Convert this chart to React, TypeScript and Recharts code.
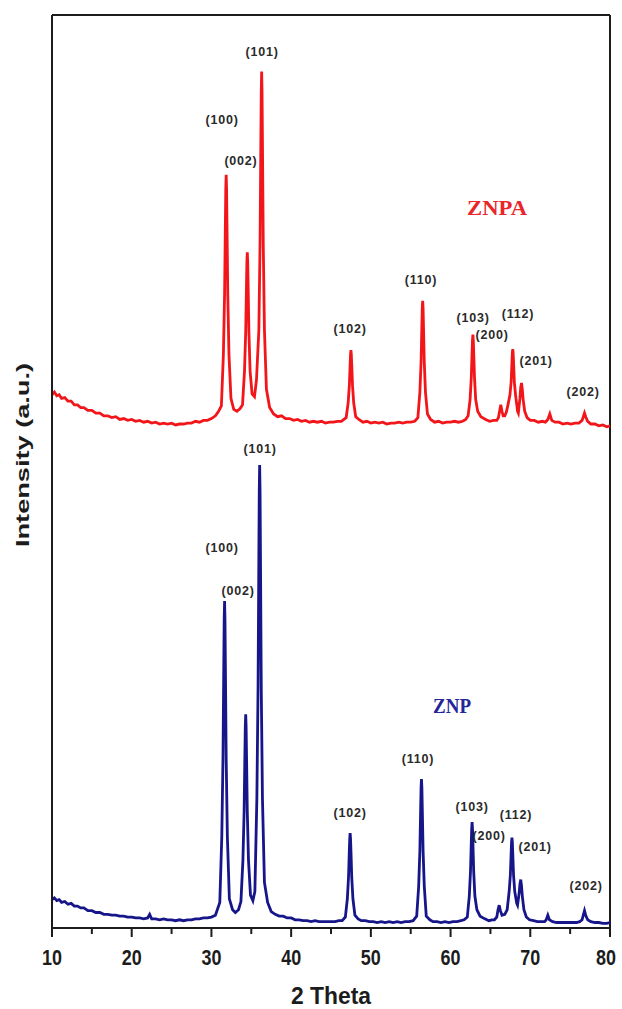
import { ComposedChart, Line, Scatter, XAxis, YAxis, ReferenceLine } from 'recharts'

// [2θ, intensity]
// ZNP (blue, lower pattern)
const znpPoints: [number, number][] = [
  [10, 31], [10.3, 33], [10.6, 30], [10.9, 31], [11.2, 28], [11.6, 29], [12, 26], [12.4, 27], [12.8, 24], [13.2, 24],
  [13.6, 22], [14, 22], [14.5, 19], [15, 19], [15.5, 17], [16, 17], [16.5, 15], [17, 15], [17.5, 14], [18, 14],
  [18.5, 13], [19, 13], [19.5, 12], [20, 12], [20.5, 11], [21, 11], [21.5, 10], [22, 11], [22.25, 15], [22.5, 10],
  [23, 10], [23.5, 9], [24, 10], [24.5, 9], [25, 9], [25.5, 8], [26, 9], [26.5, 8], [27, 9], [27.5, 9], [28, 10],
  [28.5, 10], [29, 11], [29.5, 11], [30, 12], [30.5, 14],
  [31.05, 28], [31.3, 100], [31.45, 186], [31.55, 289], [31.6, 337], [31.65, 358], [31.7, 337], [31.75, 289],
  [31.85, 186], [32, 100], [32.25, 32], [32.65, 20], [33, 17], [33.4, 20],
  [33.7, 29], [33.95, 74], [34.1, 127], [34.2, 191], [34.25, 221], [34.3, 234], [34.35, 221], [34.4, 191],
  [34.5, 127], [34.65, 74], [34.9, 36], [35.2, 30],
  [35.45, 40], [35.7, 142], [35.85, 264], [35.95, 410], [36, 478], [36.05, 507], [36.1, 478], [36.15, 410],
  [36.25, 264], [36.4, 142], [36.65, 50], [37.05, 28], [37.5, 18],
  [38, 15], [38.5, 13], [39, 13], [39.5, 11], [40, 11], [40.5, 9], [41, 9], [41.5, 8], [42, 8], [42.5, 7], [43, 8],
  [43.5, 7], [44, 7], [44.5, 7], [45, 7], [45.5, 7], [46, 8], [46.4, 8],
  [46.8, 12], [47.05, 32], [47.2, 56], [47.3, 85], [47.35, 98], [47.4, 104], [47.45, 98], [47.5, 85], [47.6, 56],
  [47.75, 32], [48, 14], [48.4, 10],
  [48.8, 8], [49.3, 8], [49.8, 7], [50.3, 7], [50.8, 6], [51.3, 7], [51.8, 6], [52.3, 7], [52.8, 6], [53.3, 7],
  [53.8, 6], [54.3, 7], [54.8, 7], [55.3, 8],
  [55.75, 13], [56, 46], [56.15, 85], [56.25, 132], [56.3, 154], [56.35, 163], [56.4, 154], [56.45, 132],
  [56.55, 85], [56.7, 46], [56.95, 13], [57.4, 9],
  [57.8, 7], [58.3, 7], [58.8, 6], [59.3, 7], [59.8, 6], [60.3, 7], [60.8, 7], [61.3, 8], [61.7, 9],
  [62.1, 12], [62.35, 35], [62.5, 62], [62.6, 94], [62.65, 109], [62.7, 116], [62.75, 109], [62.8, 94], [62.9, 62],
  [63.05, 35], [63.3, 20], [63.7, 13], [64.3, 10],
  [64.8, 8], [65.2, 9], [65.5, 9], [65.8, 12], [65.95, 20], [66.1, 25], [66.25, 19], [66.45, 14], [66.8, 15],
  [67.1, 20], [67.35, 40], [67.5, 58], [67.6, 82], [67.65, 94], [67.7, 99], [67.75, 94], [67.8, 82], [67.9, 58],
  [68.05, 40], [68.3, 27], [68.4, 25],
  [68.6, 38], [68.7, 48], [68.8, 53], [68.9, 46], [69, 35], [69.2, 20], [69.5, 12],
  [69.9, 9], [70.4, 8], [70.9, 7], [71.4, 7], [71.8, 7], [72, 9], [72.2, 14], [72.4, 9], [72.8, 7], [73.3, 6],
  [73.8, 6], [74.3, 6], [74.8, 6], [75.3, 6], [75.8, 6], [76.2, 7], [76.5, 9], [76.65, 14], [76.8, 19], [76.95, 14],
  [77.2, 9], [77.6, 7], [78.1, 6], [78.6, 6], [79.1, 5], [79.6, 5], [80, 6],
]

// ZNPA (red, upper pattern)
const znpaPoints: [number, number][] = [
  [10, 584], [10.3, 587], [10.6, 583], [10.9, 584], [11.2, 580], [11.6, 581], [12, 577], [12.4, 577], [12.8, 573],
  [13.2, 573], [13.6, 570], [14, 570], [14.5, 567], [15, 567], [15.5, 564], [16, 564], [16.5, 561], [17, 561],
  [17.5, 559], [18, 560], [18.5, 557], [19, 558], [19.5, 556], [20, 557], [20.5, 555], [21, 556], [21.5, 554],
  [22, 555], [22.5, 553], [23, 554], [23.5, 552], [24, 553], [24.5, 552], [25, 553], [25.5, 551], [26, 552],
  [26.5, 552], [27, 553], [27.5, 553], [28, 555], [28.5, 554], [29, 556], [29.5, 556], [30, 558], [30.5, 561],
  [30.9, 566],
  [31.25, 572], [31.5, 628], [31.65, 694], [31.75, 772], [31.8, 809], [31.85, 825], [31.9, 809], [31.95, 772],
  [32.05, 694], [32.2, 628], [32.45, 580], [32.8, 568], [33.2, 566], [33.6, 569],
  [33.9, 573], [34.15, 610], [34.3, 653], [34.4, 705], [34.45, 730], [34.5, 740], [34.55, 730], [34.6, 705],
  [34.7, 653], [34.85, 610], [35.1, 585], [35.4, 582],
  [35.65, 600], [35.95, 655], [36.1, 750], [36.2, 862], [36.25, 915], [36.3, 938], [36.35, 915], [36.4, 862],
  [36.5, 750], [36.65, 655], [36.9, 590], [37.3, 570], [37.8, 563],
  [38.3, 560], [38.8, 561], [39.3, 558], [39.8, 558], [40.3, 556], [40.8, 557], [41.3, 555], [41.8, 556],
  [42.3, 554], [42.8, 555], [43.3, 554], [43.8, 555], [44.3, 553], [44.8, 554], [45.3, 554], [45.8, 555], [46.3, 555],
  [46.9, 559], [47.15, 575], [47.3, 594], [47.4, 617], [47.45, 628], [47.5, 633], [47.55, 628], [47.6, 617],
  [47.7, 594], [47.85, 575], [48.1, 560], [48.5, 557],
  [49, 554], [49.5, 555], [50, 553], [50.5, 554], [51, 553], [51.5, 554], [52, 552], [52.5, 553], [53, 553],
  [53.5, 554], [54, 553], [54.5, 554], [55, 554], [55.5, 555],
  [55.9, 559], [56.15, 587], [56.3, 620], [56.4, 660], [56.45, 679], [56.5, 687], [56.55, 679], [56.6, 660],
  [56.7, 620], [56.85, 587], [57.1, 563], [57.5, 557],
  [58, 554], [58.5, 555], [59, 553], [59.5, 554], [60, 554], [60.5, 555], [61, 554], [61.5, 555], [61.9, 557],
  [62.2, 561], [62.45, 579], [62.6, 603], [62.7, 631], [62.75, 644], [62.8, 650], [62.85, 644], [62.9, 631],
  [63, 603], [63.15, 579], [63.4, 566], [63.8, 560], [64.4, 557],
  [64.9, 555], [65.4, 556], [65.8, 556], [66, 559], [66.15, 566], [66.3, 573], [66.45, 566], [66.6, 561],
  [66.8, 561], [67, 565],
  [67.2, 573], [67.45, 584], [67.6, 598], [67.7, 620], [67.75, 630], [67.8, 634], [67.85, 630], [67.9, 620],
  [68, 598], [68.15, 584], [68.4, 566], [68.5, 564],
  [68.7, 580], [68.8, 592], [68.9, 597], [69, 590], [69.1, 579], [69.3, 566], [69.6, 559],
  [70, 556], [70.5, 556], [71, 554], [71.5, 555], [71.9, 554], [72.2, 557], [72.45, 563], [72.7, 556], [73.1, 554],
  [73.6, 554], [74.1, 552], [74.6, 553], [75.1, 552], [75.6, 553], [76.1, 553], [76.5, 556], [76.65, 560],
  [76.8, 564], [76.95, 560], [77.2, 555], [77.6, 552], [78.1, 552], [78.6, 550], [79.1, 551], [79.6, 549], [80, 550],
]

// Miller index annotations
const hklNames = ['(100)', '(002)', '(101)', '(102)', '(110)', '(103)', '(200)', '(112)', '(201)', '(202)']
const znpaLabelTheta = [31.33, 33.71, 36.35, 47.39, 56.3, 62.82, 65.2, 68.47, 70.73, 76.62]
const znpaLabelIntensity = [885, 841, 960, 657, 710, 669, 650, 673, 621, 588]
const znpLabelTheta = [31.33, 33.34, 36.1, 47.39, 55.92, 62.7, 64.83, 68.2, 70.6, 77.0]
const znpLabelIntensity = [417, 370, 525, 126, 185, 133, 101, 124, 89, 46]

const sampleNames = ['ZNPA', 'ZNP']
const sampleTheta = [65.84, 60.19]
const sampleIntensity = [789, 243]

const xTicks = [10, 15, 20, 25, 30, 35, 40, 45, 50, 55, 60, 65, 70, 75, 80]

const RED = '#f2161b'
const BLUE = '#16168a'
const INK = '#1c1c1c'
const SANS = "'Liberation Sans', Arial, sans-serif"
const SERIF = "'Liberation Serif', 'Times New Roman', serif"

const toRows = (pts: [number, number][]) => pts.map(([x, y]) => ({ x, y }))

const znpData = toRows(znpPoints)
const znpaData = toRows(znpaPoints)
const hklData = [
  ...hklNames.map((t, i) => ({ x: znpaLabelTheta[i], y: znpaLabelIntensity[i], text: t })),
  ...hklNames.map((t, i) => ({ x: znpLabelTheta[i], y: znpLabelIntensity[i], text: t })),
]
const nameData = sampleNames.map((t, i) => ({ x: sampleTheta[i], y: sampleIntensity[i], text: t }))

const XTick = ({ x, y, payload }: any) => {
  const major = payload.value % 10 === 0
  // keep the last label inside the picture
  const lx = payload.value === 80 ? x - 4 : x
  return (
    <g>
      <line x1={x} x2={x} y1={y} y2={y + (major ? 9 : 6)} stroke={INK} strokeWidth={2} />
      {major && (
        <text
          x={lx}
          y={y + 37}
          textAnchor="middle"
          fontFamily={SANS}
          fontWeight="bold"
          fontSize={22}
          fill={INK}
          textLength={20}
          lengthAdjust="spacingAndGlyphs"
        >
          {payload.value}
        </text>
      )}
    </g>
  )
}

const HklShape = ({ cx, cy, payload }: any) => (
  <text x={cx} y={cy} dy="0.35em" textAnchor="middle" fontFamily={SANS} fontWeight="bold" fontSize={12.5} letterSpacing={0.8} fill="#2a2a2a">
    {payload.text}
  </text>
)

const NameShape = ({ cx, cy, payload }: any) => (
  <text
    x={cx}
    y={cy}
    dy="0.35em"
    textAnchor="middle"
    fontFamily={SERIF}
    fontWeight="bold"
    fontSize={21}
    fill={payload.text === 'ZNP' ? '#25259a' : '#e8262b'}
    textLength={payload.text === 'ZNP' ? 38 : 60}
    lengthAdjust="spacingAndGlyphs"
  >
    {payload.text}
  </text>
)

export default function App() {
  return (
    <div style={{ position: 'absolute', left: 0, top: 0, width: 622, height: 1009, background: '#fff' }}>
      <ComposedChart width={622} height={1009} margin={{ top: 15, right: 12, bottom: 0, left: 0 }}>
        <XAxis
          dataKey="x"
          type="number"
          domain={[10, 80]}
          ticks={xTicks}
          interval={0}
          height={81}
          tickSize={0}
          tickMargin={0}
          tickLine={false}
          tick={<XTick />}
          axisLine={{ stroke: INK, strokeWidth: 2 }}
          label={{
            content: () => (
              <text x={331} y={1004} textAnchor="middle" fontFamily={SANS} fontWeight="bold" fontSize={24} fill={INK} textLength={80} lengthAdjust="spacingAndGlyphs">
                2 Theta
              </text>
            ),
          }}
        />
        <YAxis
          type="number"
          domain={[0, 1000]}
          width={52}
          tick={false}
          tickLine={false}
          axisLine={{ stroke: INK, strokeWidth: 2 }}
          label={{
            content: () => (
              <text
                x={29}
                y={455}
                transform="rotate(-90 29 455)"
                textAnchor="middle"
                fontFamily={SANS}
                fontWeight="bold"
                fontSize={19}
                fill={INK}
                textLength={184}
                lengthAdjust="spacingAndGlyphs"
              >
                Intensity (a.u.)
              </text>
            ),
          }}
        />
        <ReferenceLine y={1000} stroke={INK} strokeWidth={2} />
        <ReferenceLine x={80} stroke={INK} strokeWidth={2} />
        <Line data={znpaData} dataKey="y" type="linear" stroke={RED} strokeWidth={2.8} dot={false} isAnimationActive={false} />
        <Line data={znpData} dataKey="y" type="linear" stroke={BLUE} strokeWidth={2.8} dot={false} isAnimationActive={false} />
        <Scatter data={hklData} dataKey="y" shape={<HklShape />} isAnimationActive={false} />
        <Scatter data={nameData} dataKey="y" shape={<NameShape />} isAnimationActive={false} />
      </ComposedChart>
    </div>
  )
}
